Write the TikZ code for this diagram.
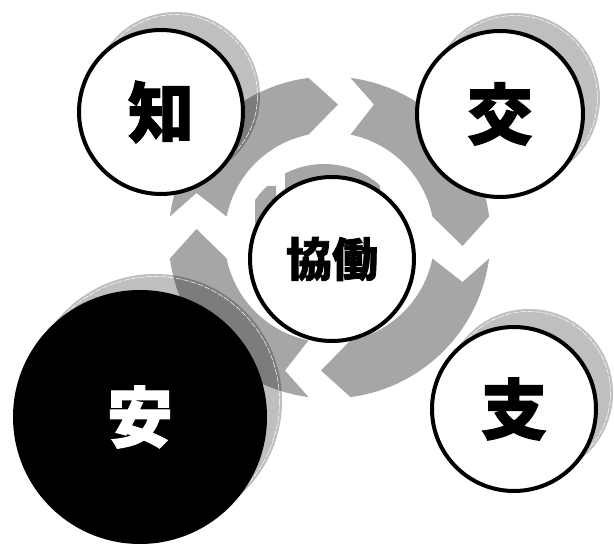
\documentclass[tikz,border=0pt]{standalone}
\usepackage{fontspec}
\newfontfamily\cjk{Noto Sans CJK JP}[BoldFeatures={FakeBold=1.6}]
\definecolor{ringgray}{HTML}{A6A6A6}
\begin{document}
\begin{tikzpicture}[x=1pt,y=-1pt,
  ring/.style={fill=ringgray},
  shadowdisc/.style={fill=black, fill opacity=0.25},
  shadowline/.style={draw=white, line width=0.5pt, dash pattern=on 6pt off 1.5pt},
  bubble/.style={circle, draw=black, line width=4pt, fill=white, inner sep=0pt,
    font=\cjk\bfseries\fontsize{66}{66}\selectfont},
]
\useasboundingbox (0,0) rectangle (614,545);

% centres
\coordinate (chiC) at (161,112);
\coordinate (kouC) at (500,114);
\coordinate (shiC) at (514,409);
\coordinate (anC)  at (140,417);
\coordinate (kyoC) at (332,259);

% ring of four circular chevron arrows
\foreach \g in {180,270,0,90}{
  \pgfmathsetmacro\oa{\g+7.49}
  \pgfmathsetmacro\ob{\g+82.51}
  \pgfmathsetmacro\ia{\g+78.46}
  \pgfmathsetmacro\ib{\g+11.54}
  \pgfmathsetmacro\h{\g+90}
  \fill[ring] plot[domain=\oa:\ob, samples=40] ({329.5+161*cos(\x)},{237.5+161*sin(\x)})
    -- ({329.5+133*cos(\h)-8.5*sin(\h)},{237.5+133*sin(\h)+8.5*cos(\h)})
    -- plot[domain=\ia:\ib, samples=40] ({329.5+105*cos(\x)},{237.5+105*sin(\x)})
    -- ({329.5+133*cos(\g)-44.5*sin(\g)},{237.5+133*sin(\g)+44.5*cos(\g)}) -- cycle;
}

% crescent shadow of the centre circle
\begin{scope}
  \clip (285,140) rectangle (380,200) (255,186) rectangle (276,226);
  \fill[ring] (324,248) circle[radius=84];
\end{scope}

% shadows of the outer circles
\foreach \c/\r in {chiC/84, kouC/85, shiC/84, anC/127}{
  \fill[shadowdisc] ([shift={(15,-16)}]\c) circle[radius=\r];
  \pgfmathsetmacro\rr{\r-2.5}
  \draw[shadowline] ([shift={(15,-16)}]\c) circle[radius=\rr];
}

% circles
\node[bubble, minimum size=164pt] (chi) at (chiC) {知};
\node[bubble, minimum size=166pt] (kou) at (kouC) {交};
\node[bubble, minimum size=164pt] (shi) at (shiC) {支};
\node[bubble, minimum size=250pt, fill=black, text=white] (an) at (anC) {安};
\node[bubble, minimum size=164pt, font=\cjk\bfseries\fontsize{46}{46}\selectfont] (kyo) at (kyoC) {協働};
\end{tikzpicture}
\end{document}
